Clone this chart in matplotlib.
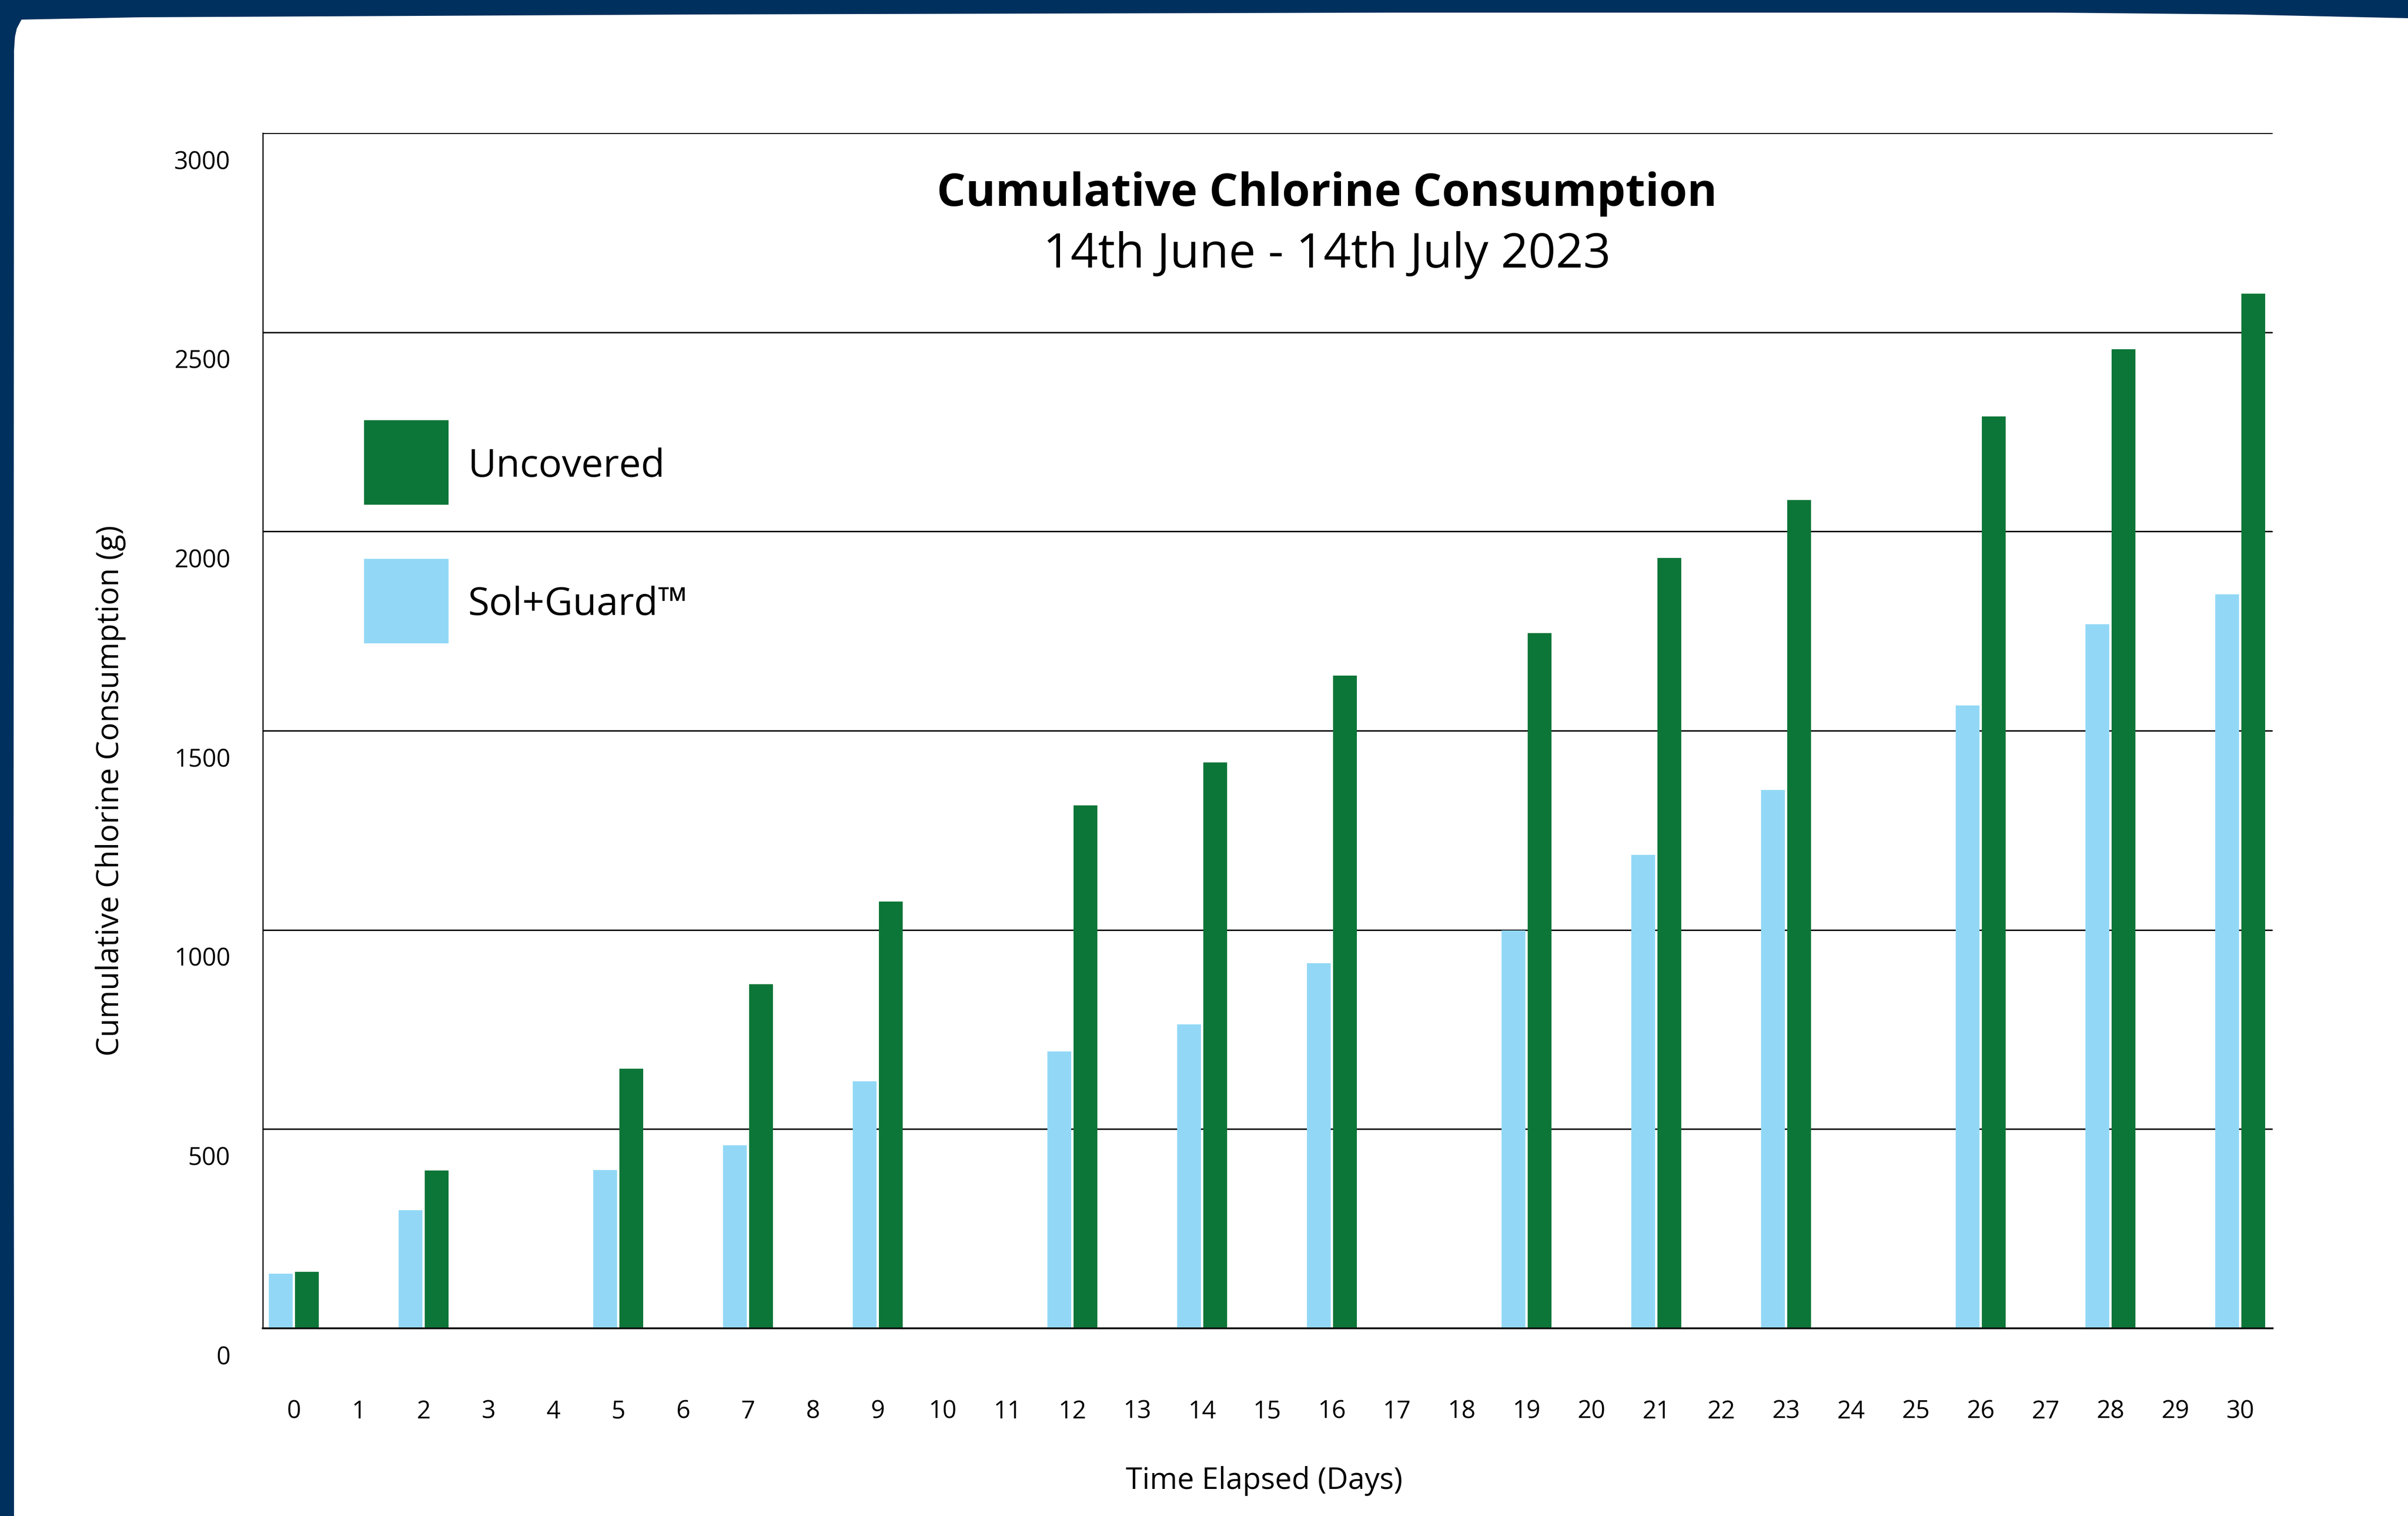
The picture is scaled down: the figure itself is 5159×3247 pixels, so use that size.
import matplotlib
matplotlib.use("Agg")
import matplotlib.pyplot as plt
import matplotlib.transforms as mtransforms
from matplotlib.patches import Polygon, Rectangle

# ─────────────────────────────────────────────
#  DADOS
# ─────────────────────────────────────────────

DIAS       = [0, 2, 5, 7, 9, 12, 14, 16, 19, 21, 23, 26, 28, 30]
UNCOVERED  = [142, 396, 651, 864, 1071, 1313, 1420, 1638, 1745, 1934, 2079, 2289, 2458, 2597]
SOLGUARD   = [137, 297, 397, 459, 620, 695, 763, 916, 998, 1188, 1351, 1563, 1767, 1842]

X_TICKS    = list(range(0, 31))
Y_TICKS    = [0, 500, 1000, 1500, 2000, 2500, 3000]

SERIES_LABELS = ["Uncovered", "Sol+Guard\u2122"]
TITLE      = "Cumulative Chlorine Consumption"
SUBTITLE   = "14th June - 14th July 2023"
X_LABEL    = "Time Elapsed (Days)"
Y_LABEL    = "Cumulative Chlorine Consumption (g)"

# ─────────────────────────────────────────────
#  ESTILO
# ─────────────────────────────────────────────

W, H, DPI = 5159, 3248, 100
NAVY   = "#00305E"
GREEN  = "#0C7638"
LBLUE  = "#92D8F6"

plt.rcParams['font.family'] = ['Open Sans', 'DejaVu Sans']


def px(x, y):
    """pixel (from top-left) -> figure fraction"""
    return x / W, 1 - y / H


def desenhar_moldura(fig):
    fig.patch.set_facecolor(NAVY)
    pts = [(30, 3248), (30, 2800), (29, 2000), (30, 110), (32, 80), (36, 62),
           (46, 43), (300, 38), (1500, 32), (3000, 28), (4400, 28),
           (4800, 32), (5159, 40), (5159, 3248)]
    card = Polygon([px(x, y) for x, y in pts], closed=True,
                   transform=fig.transFigure, facecolor="white",
                   edgecolor="none", zorder=-1)
    fig.patches.append(card)


def main():
    fig = plt.figure(figsize=(W / DPI, H / DPI), dpi=DPI)
    desenhar_moldura(fig)

    l, t = px(563, 286)
    r, b = px(4869, 2846)
    ax = fig.add_axes([l, b, r - l, t - b])
    ax.set_facecolor("none")
    ax.set_zorder(1)

    bw = 0.365
    ax.bar([d - 0.385 for d in DIAS], SOLGUARD, width=bw, align='edge',
           color=LBLUE, zorder=3)
    ax.bar([d + 0.018 for d in DIAS], UNCOVERED, width=bw, align='edge',
           color=GREEN, zorder=3)

    ax.set_xlim(-0.48, 30.5)
    ax.set_ylim(0, 3000)
    ax.set_xticks(X_TICKS)
    ax.set_xticklabels([str(v) for v in X_TICKS])
    ax.set_yticks(Y_TICKS)
    ax.set_yticklabels([str(v) for v in Y_TICKS])
    ax.tick_params(axis='both', length=0, labelsize=38)
    ax.tick_params(axis='x', pad=109)
    ax.tick_params(axis='y', pad=50)

    # rotulos do eixo y ficam um pouco abaixo das linhas
    desloc = mtransforms.ScaledTranslation(0, -56 / DPI, fig.dpi_scale_trans)
    for lbl in ax.get_yticklabels():
        lbl.set_transform(lbl.get_transform() + desloc)

    ax.grid(axis='y', color='black', linewidth=2.2, zorder=1)
    ax.grid(axis='x', visible=False)
    ax.set_axisbelow(True)
    for s in ['right', 'top']:
        ax.spines[s].set_visible(False)
    ax.spines['left'].set_linewidth(1.8)
    ax.spines['bottom'].set_linewidth(2.8)
    ax.spines['bottom'].set_color('#111111')
    ax.spines['bottom'].set_zorder(4)

    # titulo
    tx, ty = px(2843, 415)
    fig.text(tx, ty, TITLE, ha='center', va='center', fontsize=70,
             fontweight='bold')
    tx, ty = px(2843, 547)
    fig.text(tx, ty, SUBTITLE, ha='center', va='center', fontsize=74)

    # rotulos dos eixos
    tx, ty = px(2708, 3172)
    fig.text(tx, ty, X_LABEL, ha='center', va='center', fontsize=46)
    tx, ty = px(237, 1694)
    fig.text(tx, ty, Y_LABEL, ha='center', va='center', fontsize=47,
             rotation=90)

    # legenda manual
    for (sq_y, txt_y), cor, nome in zip([(1082, 1000), (1379, 1296)],
                                         [GREEN, LBLUE], SERIES_LABELS):
        x0, y0 = px(780, sq_y)
        fig.patches.append(Rectangle((x0, y0), 181 / W, 181 / H,
                                     transform=fig.transFigure,
                                     facecolor=cor, edgecolor='none'))
        tx, ty = px(1003, txt_y)
        fig.text(tx, ty, nome, ha='left', va='center', fontsize=60)

    fig.savefig("out.png", dpi=DPI, facecolor=fig.get_facecolor())


if __name__ == "__main__":
    main()
